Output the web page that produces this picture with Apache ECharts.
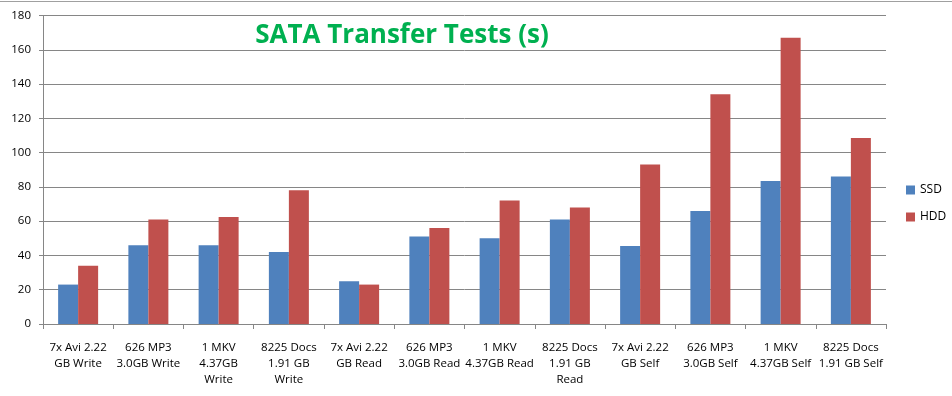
<!DOCTYPE html>
<html><head><meta charset="utf-8">
<script src="https://cdn.jsdelivr.net/npm/echarts@6/dist/echarts.min.js"></script>
<style>html,body{margin:0;padding:0;background:#fff}#c{width:952px;height:396px}</style>
</head><body><div id="c"></div>
<script>
const categories = [
  "7x Avi 2.22\nGB Write", "626 MP3\n3.0GB Write", "1 MKV\n4.37GB\nWrite", "8225 Docs\n1.91 GB\nWrite",
  "7x Avi 2.22\nGB Read", "626 MP3\n3.0GB Read", "1 MKV\n4.37GB Read", "8225 Docs\n1.91 GB\nRead",
  "7x Avi 2.22\nGB Self", "626 MP3\n3.0GB Self", "1 MKV\n4.37GB Self", "8225 Docs\n1.91 GB Self"
];
const ssd = [23, 46, 46, 42, 25, 51, 50, 61, 45.5, 66, 83.5, 86];
const hdd = [34, 61, 62.5, 78, 23, 56, 72, 68, 93, 134, 167, 108.5];
const yTicks = [0, 20, 40, 60, 80, 100, 120, 140, 160, 180];

const chart = echarts.init(document.getElementById('c'));
const font = "'Open Sans', 'Liberation Sans', sans-serif";
chart.setOption({
  animation: false,
  title: {
    text: 'SATA Transfer Tests (s)', left: 397, top: 18, textAlign: 'center',
    textStyle: { color: '#00B050', fontSize: 26, fontWeight: 'bold', fontFamily: "'Open Sans', sans-serif" }
  },
  legend: {
    orient: 'vertical', left: 906, top: 184, padding: 0, itemWidth: 9, itemHeight: 9, itemGap: 15,
    icon: 'rect', textStyle: { fontSize: 12, fontFamily: font, color: '#000' },
    data: ['SSD', 'HDD']
  },
  grid: { left: 43, right: 66, top: 15.5, bottom: 72, containLabel: false },
  xAxis: {
    type: 'category', data: categories,
    axisLine: { lineStyle: { color: '#868686', width: 1 } },
    axisTick: { show: true, length: 5, lineStyle: { color: '#868686' } },
    axisLabel: { interval: 0, fontSize: 11.5, fontFamily: font, color: '#000', lineHeight: 16, margin: 16 }
  },
  yAxis: {
    type: 'value', min: yTicks[0], max: yTicks[yTicks.length - 1], interval: 20,
    axisLine: { show: true, lineStyle: { color: '#868686' } },
    axisTick: { show: true, length: 4, lineStyle: { color: '#868686' } },
    axisLabel: { fontSize: 11.5, fontFamily: font, color: '#000', margin: 12 },
    splitLine: { lineStyle: { color: '#868686', width: 1 } }
  },
  series: [
    { name: 'SSD', type: 'bar', data: ssd, barWidth: 20, barGap: '0%', itemStyle: { color: '#4F81BD' } },
    { name: 'HDD', type: 'bar', data: hdd, barWidth: 20, barGap: '0%', itemStyle: { color: '#C0504D' } }
  ],
  graphic: [
    { type: 'line', shape: { x1: 0, y1: 1.5, x2: 952, y2: 1.5 }, style: { stroke: '#a0a0a0', lineWidth: 1 } }
  ]
});
</script>
</body></html>
